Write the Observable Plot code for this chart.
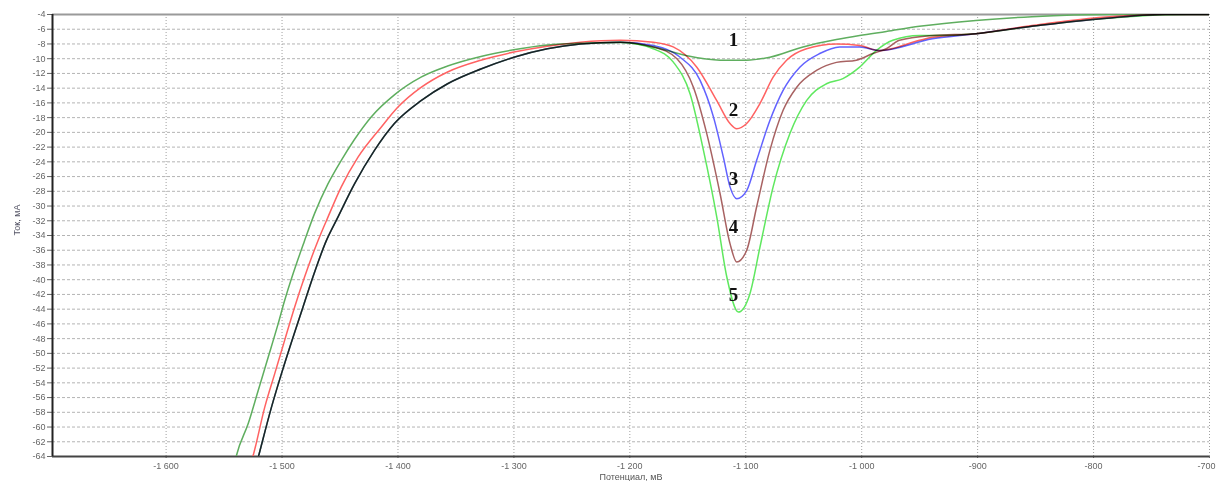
<!DOCTYPE html>
<html><head><meta charset="utf-8">
<script src="https://cdn.jsdelivr.net/npm/d3@7"></script>
<script src="https://cdn.jsdelivr.net/npm/@observablehq/plot@0.6"></script>
<style>body{margin:0;background:#fff;} #chart svg{display:block}</style>
</head><body><div id="chart"></div>
<script>
// Potential (mV) and current (mA)
const potential1 = [-1541, -1539.2, -1529.1, -1520.5, -1511.9, -1503.4, -1497.7, -1490.5, -1481, -1471.9, -1460.4, -1448.9, -1437.7, -1423.1, -1403.1, -1380.1, -1357.2, -1328.5, -1300.2, -1271.2, -1242.6, -1208.2, -1179.5, -1150.8, -1122.2, -1099.2, -1079.2, -1050.6, -1021.8, -1001.8, -978.8, -950.2, -901.5, -853.1, -786.8, -700];
const current1   = [-65, -63.8, -59.5, -55.0, -50.5, -46.0, -42.8, -39.2, -34.9, -31.0, -27.0, -23.8, -21.0, -17.9, -14.9, -12.5, -11.0, -9.7, -8.8, -8.15, -7.9, -7.8, -8.4, -9.6, -10.2, -10.2, -9.8, -8.4, -7.4, -6.85, -6.3, -5.6, -4.8, -4.3, -4.0, -4.0];

const potential2 = [-1527, -1524.8, -1514.9, -1506.3, -1497.7, -1489.1, -1480.5, -1469, -1460.4, -1448.9, -1434.6, -1414.5, -1400.2, -1380.1, -1357.2, -1328.5, -1300, -1271.2, -1242.6, -1208.2, -1179.8, -1162.6, -1142.2, -1125.0, -1113.6, -1107.8, -1099.2, -1087.8, -1076.4, -1064.8, -1047.6, -1021.8, -1001.8, -984.6, -950.2, -939.0, -901.5, -853.1, -795.4, -738.1, -700];
const current2   = [-65, -63.8, -57.3, -52.75, -48.2, -43.7, -39.6, -34.7, -31.5, -27.4, -23.4, -19.3, -16.6, -13.9, -11.8, -10.2, -9.1, -8.3, -7.76, -7.5, -7.76, -8.4, -11.15, -15.7, -18.8, -19.5, -18.8, -16.1, -12.5, -10.2, -8.65, -8.0, -8.2, -8.9, -7.5, -7.1, -6.6, -5.5, -4.4, -4.0, -4.0];

// common left branch of curves 3, 4, 5
const potentialShared = [-1522, -1520, -1509.1, -1500.5, -1490.5, -1481.9, -1473.3, -1461.8, -1451.8, -1437.5, -1420.3, -1403.1, -1380.1, -1357.2, -1328.5, -1300, -1271.2, -1242.6, -1208.2];
const currentShared   = [-65, -63.8, -57.3, -52.75, -47.8, -43.7, -39.6, -34.7, -31.5, -27.0, -22.45, -18.8, -15.7, -13.4, -11.4, -9.8, -8.65, -8.0, -7.76];

const potential3 = [-1179.8, -1156.6, -1139.4, -1127.9, -1119.3, -1113.6, -1107.8, -1099.2, -1090.6, -1079.2, -1067.8, -1053.4, -1036.2, -1019.0, -1001.8, -984.6, -939, -901.5, -853.1, -795.4, -738.1, -700];
const current3   = [-8.2, -9.8, -12.95, -17.9, -23.4, -27.4, -29.0, -27.9, -23.8, -18.4, -14.3, -11.15, -9.3, -8.4, -8.4, -8.9, -7.3, -6.6, -5.6, -4.6, -4.0, -4.0];

const potential4 = [-1179.8, -1159.4, -1145.1, -1133.6, -1122.2, -1113.6, -1107.8, -1099.2, -1090.6, -1079.2, -1067.8, -1056.2, -1039.0, -1021.8, -1004.6, -990.4, -978.8, -967.4, -939, -901.5, -853.1, -795.4, -738.1, -700];
const current4   = [-8.4, -10.0, -13.9, -20.2, -28.3, -35.1, -37.6, -36.0, -30.1, -22.45, -17.0, -13.9, -11.6, -10.5, -10.2, -9.3, -8.65, -7.5, -6.85, -6.6, -5.6, -4.6, -4.0, -4.0];

const potential5 = [-1179.8, -1162.3, -1148.0, -1136.5, -1125.0, -1116.4, -1106.4, -1096.4, -1087.8, -1076.4, -1062.0, -1047.6, -1030.4, -1016.2, -1001.8, -987.5, -973.2, -950.2, -939, -901.5, -853.1, -795.4, -718.2, -700];
const current5   = [-8.65, -10.5, -14.8, -22.45, -31.5, -39.6, -44.4, -41.9, -35.6, -27.4, -20.2, -15.7, -13.4, -12.7, -11.15, -8.9, -7.5, -6.85, -6.85, -6.6, -5.6, -4.6, -4.0, -4.0];

const seriesNames  = ["1", "2", "3", "4", "5"];
const seriesColors = ["#5fae5f", "#ff6262", "#6262ff", "#a86262", "#5fe85f"];
const labelPotential = [-1110.6, -1110.6, -1110.6, -1110.6, -1110.6];
const labelCurrent   = [-7.5, -17.0, -26.3, -32.8, -42.1];

const xTicks = [-1600, -1500, -1400, -1300, -1200, -1100, -1000, -900, -800, -700];
const yTicks = [-4, -6, -8, -10, -12, -14, -16, -18, -20, -22, -24, -26, -28, -30, -32, -34, -36, -38, -40, -42, -44, -46, -48, -50, -52, -54, -56, -58, -60, -62, -64];

const xTitle = "Потенциал, мВ";
const yTitle = "Ток, мА";

const table = [];
function add(series, V, I) { V.forEach((v, k) => table.push({series, v, i: I[k]})); }
add("1", potential1, current1);
add("2", potential2, current2);
add("3", potentialShared.concat(potential3), currentShared.concat(current3));
add("4", potentialShared.concat(potential4), currentShared.concat(current4));
add("5", potentialShared.concat(potential5), currentShared.concat(current5));

const labels = seriesNames.map((s, k) => ({s, v: labelPotential[k], i: labelCurrent[k]}));

const ru = d3.formatLocale({decimal: ",", thousands: " ", grouping: [3], currency: ["", ""], minus: "-"});
const fmtX = ru.format(",");
const fmtY = d => String(d);
const lastX = xTicks[xTicks.length - 1];

const chart = Plot.plot({
  width: 1216, height: 481,
  marginLeft: 52, marginRight: 7, marginTop: 14, marginBottom: 25,
  style: {fontFamily: "'Liberation Sans', Arial, sans-serif", fontSize: "9px", color: "#666", background: "#fff"},
  x: {domain: [-1698, -700]},
  y: {domain: [-64, -4]},
  color: {domain: seriesNames, range: seriesColors},
  marks: [
    Plot.gridY(yTicks, {stroke: "#b4b4b4", strokeOpacity: 1, strokeDasharray: "3,2"}),
    Plot.gridX(xTicks, {stroke: "#a0a0a0", strokeOpacity: 1, strokeDasharray: "1,2"}),
    Plot.axisY(yTicks, {tickFormat: fmtY, tickSize: 5, tickPadding: 2, label: null}),
    Plot.axisX(xTicks, {tickFormat: d => d === lastX ? "" : fmtX(d), tickSize: 2, tickPadding: 4, label: null}),
    Plot.text([lastX], {x: d => d, text: d => fmtX(d), frameAnchor: "bottom", lineAnchor: "middle", dy: 10, textAnchor: "end", dx: 6, fill: "#666"}),
    Plot.ruleY([-4], {stroke: "#9a9a9a", strokeWidth: 2}),
    Plot.ruleY([-64], {stroke: "#444", strokeWidth: 2}),
    Plot.ruleX([-1698], {stroke: "#222", strokeWidth: 2}),
    Plot.line(table, {x: "v", y: "i", z: "series", stroke: "series", curve: "monotone-x", strokeWidth: 1.5, clip: true, mixBlendMode: "multiply"}),
    Plot.text(labels, {x: "v", y: "i", text: "s", fontFamily: "'Liberation Serif', 'Times New Roman', serif", fontWeight: "bold", fontSize: 19, fill: "#111"}),
    Plot.text([xTitle], {frameAnchor: "bottom", lineAnchor: "middle", dy: 20.5, fill: "#555"}),
    Plot.text([yTitle], {frameAnchor: "left", dx: -35, rotate: -90, fill: "#556"})
  ]
});
document.getElementById("chart").appendChild(chart);
</script>
</body></html>
